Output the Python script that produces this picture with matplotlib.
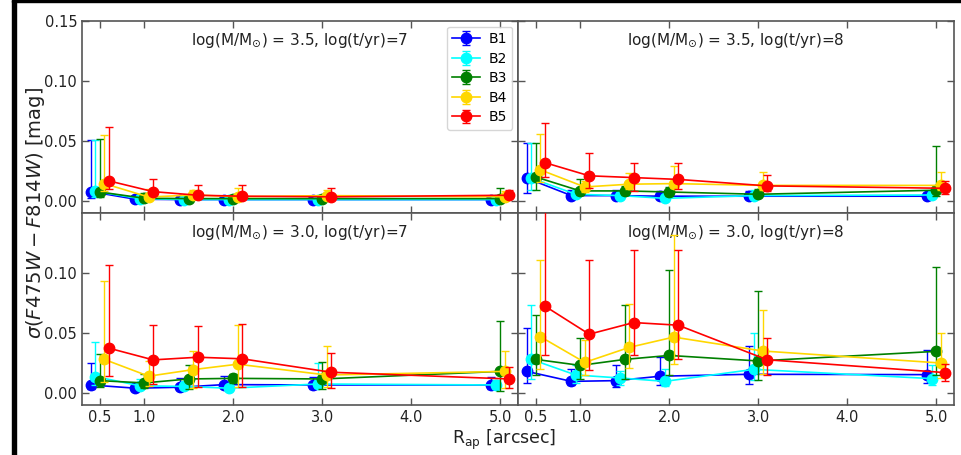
import matplotlib
matplotlib.use("Agg")
import matplotlib.pyplot as plt
from matplotlib.patches import Rectangle
import numpy as np

# ---------------- data ----------------
r_ap = [0.5, 1.0, 1.5, 2.0, 3.0, 5.0]
bands = ["B1", "B2", "B3", "B4", "B5"]
band_offsets = [-0.1, -0.05, 0.0, 0.05, 0.1]
band_colors = ["blue", "cyan", "green", "gold", "red"]

panel_titles = [
    r"log(M/M$_{\odot}$) = 3.5, log(t/yr)=7",
    r"log(M/M$_{\odot}$) = 3.5, log(t/yr)=8",
    r"log(M/M$_{\odot}$) = 3.0, log(t/yr)=7",
    r"log(M/M$_{\odot}$) = 3.0, log(t/yr)=8",
]

# panel 1: logM=3.5, logt=7
p1_val = [[0.0078, 0.0015, 0.0012, 0.0012, 0.0012, 0.0012],
          [0.0080, 0.0020, 0.0012, 0.0012, 0.0012, 0.0012],
          [0.0075, 0.0023, 0.0020, 0.0020, 0.0020, 0.0020],
          [0.0145, 0.0033, 0.0050, 0.0036, 0.0045, 0.0035],
          [0.0168, 0.0078, 0.0048, 0.0040, 0.0035, 0.0048]]
p1_hi = [[0.0430, 0.0025, 0.0020, 0.0020, 0.0020, 0.0020],
         [0.0430, 0.0030, 0.0020, 0.0020, 0.0020, 0.0020],
         [0.0445, 0.0040, 0.0030, 0.0030, 0.0030, 0.0090],
         [0.0405, 0.0067, 0.0040, 0.0070, 0.0045, 0.0050],
         [0.0447, 0.0102, 0.0086, 0.0096, 0.0072, 0.0044]]
p1_lo = [[0.0050, 0.0010, 0.0010, 0.0010, 0.0010, 0.0010],
         [0.0050, 0.0010, 0.0010, 0.0010, 0.0010, 0.0010],
         [0.0045, 0.0015, 0.0010, 0.0010, 0.0010, 0.0010],
         [0.0060, 0.0020, 0.0020, 0.0020, 0.0020, 0.0020],
         [0.0070, 0.0030, 0.0020, 0.0020, 0.0020, 0.0020]]

# panel 2: logM=3.5, logt=8
p2_val = [[0.019, 0.0045, 0.0045, 0.0040, 0.0040, 0.0040],
          [0.019, 0.0056, 0.0045, 0.0022, 0.0045, 0.0050],
          [0.020, 0.0084, 0.0084, 0.0075, 0.0056, 0.0090],
          [0.026, 0.0117, 0.0140, 0.0145, 0.0130, 0.0130],
          [0.032, 0.0210, 0.0195, 0.0180, 0.0126, 0.0106]]
p2_hi = [[0.029, 0.0045, 0.0045, 0.0046, 0.0040, 0.0030],
         [0.029, 0.0040, 0.0030, 0.0030, 0.0050, 0.0030],
         [0.028, 0.0096, 0.0040, 0.0040, 0.0040, 0.0370],
         [0.030, 0.0050, 0.0090, 0.0143, 0.0110, 0.0115],
         [0.033, 0.0190, 0.0120, 0.0136, 0.0094, 0.0064]]
p2_lo = [[0.012, 0.0020, 0.0020, 0.0020, 0.0020, 0.0020],
         [0.010, 0.0020, 0.0020, 0.0010, 0.0020, 0.0020],
         [0.011, 0.0030, 0.0030, 0.0030, 0.0020, 0.0050],
         [0.010, 0.0040, 0.0040, 0.0040, 0.0040, 0.0040],
         [0.012, 0.0100, 0.0110, 0.0080, 0.0042, 0.0050]]

# panel 3: logM=3.0, logt=7
p3_val = [[0.0067, 0.0040, 0.0048, 0.0070, 0.0067, 0.0067],
          [0.0137, 0.0060, 0.0055, 0.0040, 0.0075, 0.0067],
          [0.0103, 0.0084, 0.0117, 0.0122, 0.0117, 0.0180],
          [0.0280, 0.0140, 0.0195, 0.0240, 0.0150, 0.0180],
          [0.0374, 0.0276, 0.0298, 0.0285, 0.0173, 0.0117]]
p3_hi = [[0.0180, 0.0040, 0.0080, 0.0070, 0.0068, 0.0068],
         [0.0290, 0.0060, 0.0040, 0.0030, 0.0175, 0.0040],
         [0.0220, 0.0076, 0.0113, 0.0040, 0.0140, 0.0420],
         [0.0655, 0.0125, 0.0155, 0.0330, 0.0240, 0.0170],
         [0.0696, 0.0294, 0.0257, 0.0292, 0.0157, 0.0103]]
p3_lo = [[0.0030, 0.0020, 0.0020, 0.0030, 0.0030, 0.0030],
         [0.0070, 0.0030, 0.0020, 0.0020, 0.0030, 0.0030],
         [0.0050, 0.0040, 0.0080, 0.0040, 0.0080, 0.0160],
         [0.0190, 0.0080, 0.0150, 0.0190, 0.0100, 0.0140],
         [0.0230, 0.0200, 0.0250, 0.0235, 0.0133, 0.0077]]

# panel 4: logM=3.0, logt=8
p4_val = [[0.0180, 0.0097, 0.0103, 0.0140, 0.0156, 0.0153],
          [0.0280, 0.0150, 0.0125, 0.0097, 0.0197, 0.0120],
          [0.0280, 0.0230, 0.0280, 0.0313, 0.0267, 0.0347],
          [0.0470, 0.0255, 0.0380, 0.0466, 0.0350, 0.0250],
          [0.0725, 0.0490, 0.0587, 0.0565, 0.0277, 0.0170]]
p4_hi = [[0.0360, 0.0103, 0.0134, 0.0160, 0.0234, 0.0207],
         [0.0450, 0.0080, 0.0060, 0.0103, 0.0300, 0.0110],
         [0.0374, 0.0230, 0.0450, 0.0712, 0.0583, 0.0703],
         [0.0640, 0.0185, 0.0360, 0.0854, 0.0340, 0.0250],
         [0.0900, 0.0620, 0.0603, 0.0623, 0.0183, 0.0070]]
p4_lo = [[0.0100, 0.0032, 0.0050, 0.0070, 0.0078, 0.0070],
         [0.0160, 0.0070, 0.0060, 0.0040, 0.0090, 0.0050],
         [0.0134, 0.0110, 0.0160, 0.0167, 0.0162, 0.0194],
         [0.0270, 0.0105, 0.0170, 0.0226, 0.0195, 0.0125],
         [0.0405, 0.0300, 0.0267, 0.0285, 0.0130, 0.0070]]

panels = [(p1_val, p1_lo, p1_hi), (p2_val, p2_lo, p2_hi),
          (p3_val, p3_lo, p3_hi), (p4_val, p4_lo, p4_hi)]

x_ticks = [0.5, 1.0, 2.0, 3.0, 4.0, 5.0]
x_ticklabels = ["0.5", "1.0", "2.0", "3.0", "4.0", "5.0"]
y_ticks_top = [0.0, 0.05, 0.10, 0.15]
y_ticks_bottom = [0.0, 0.05, 0.10]

# ---------------- figure ----------------
W, H = 961, 455
fig = plt.figure(figsize=(W / 100, H / 100), dpi=100)
fig.subplots_adjust(left=82 / W, right=954 / W, top=1 - 21 / H, bottom=1 - 405 / H,
                    wspace=0.0, hspace=0.0)
axes = fig.subplots(2, 2)

spine_col = "#555555"
text_col = "#222222"

for k, ax in enumerate(axes.flat):
    vals, los, his = panels[k]
    for i in range(len(bands)):
        xs = np.array(r_ap) + band_offsets[i]
        ax.errorbar(xs, vals[i], yerr=[los[i], his[i]], color=band_colors[i],
                    marker="o", markersize=7.5, lw=1.2, elinewidth=1.0,
                    capsize=3, capthick=1.0, label=bands[i], zorder=2 + i)
    ax.set_xlim(0.3, 5.2)
    ax.set_ylim(-0.01, 0.15)
    ax.set_xticks(x_ticks)
    ax.set_xticklabels(x_ticklabels)
    row = k // 2
    yt = y_ticks_top if row == 0 else y_ticks_bottom
    ax.set_yticks(yt)
    ax.set_yticklabels(["%.2f" % v for v in yt])
    ax.tick_params(direction="in", top=True, right=True, length=5, width=1,
                   color=spine_col, labelsize=10.5, labelcolor=text_col)
    if k % 2 == 1:
        ax.tick_params(labelleft=False)
    if row == 0:
        ax.tick_params(labelbottom=False)
    for s in ax.spines.values():
        s.set_color(spine_col)
        s.set_linewidth(1.2)
    ax.text(0.5, 0.9, panel_titles[k], transform=ax.transAxes, ha="center",
            va="center", fontsize=11, color=text_col)

axes[0, 0].legend(loc="upper right", fontsize=10, handlelength=2.0,
                  borderaxespad=0.4, labelspacing=0.4, handletextpad=0.6,
                  borderpad=0.4, frameon=True)

fig.text(36 / W, 1 - 213 / H, r"$\sigma(F475W - F814W)$ [mag]", rotation=90,
         ha="center", va="center", fontsize=14, color=text_col)
fig.text(504 / W, 1 - 440 / H, r"R$_{\rm ap}$ [arcsec]", ha="center",
         va="center", fontsize=12.5, color=text_col)

# screenshot borders
fig.patches.append(Rectangle((12 / W, 0), 4 / W, 1, transform=fig.transFigure,
                             color="black", zorder=10))
fig.patches.append(Rectangle((12 / W, 1 - 2 / H), 1 - 12 / W, 2 / H,
                             transform=fig.transFigure, color="black", zorder=10))

fig.savefig("out.png", dpi=100)
